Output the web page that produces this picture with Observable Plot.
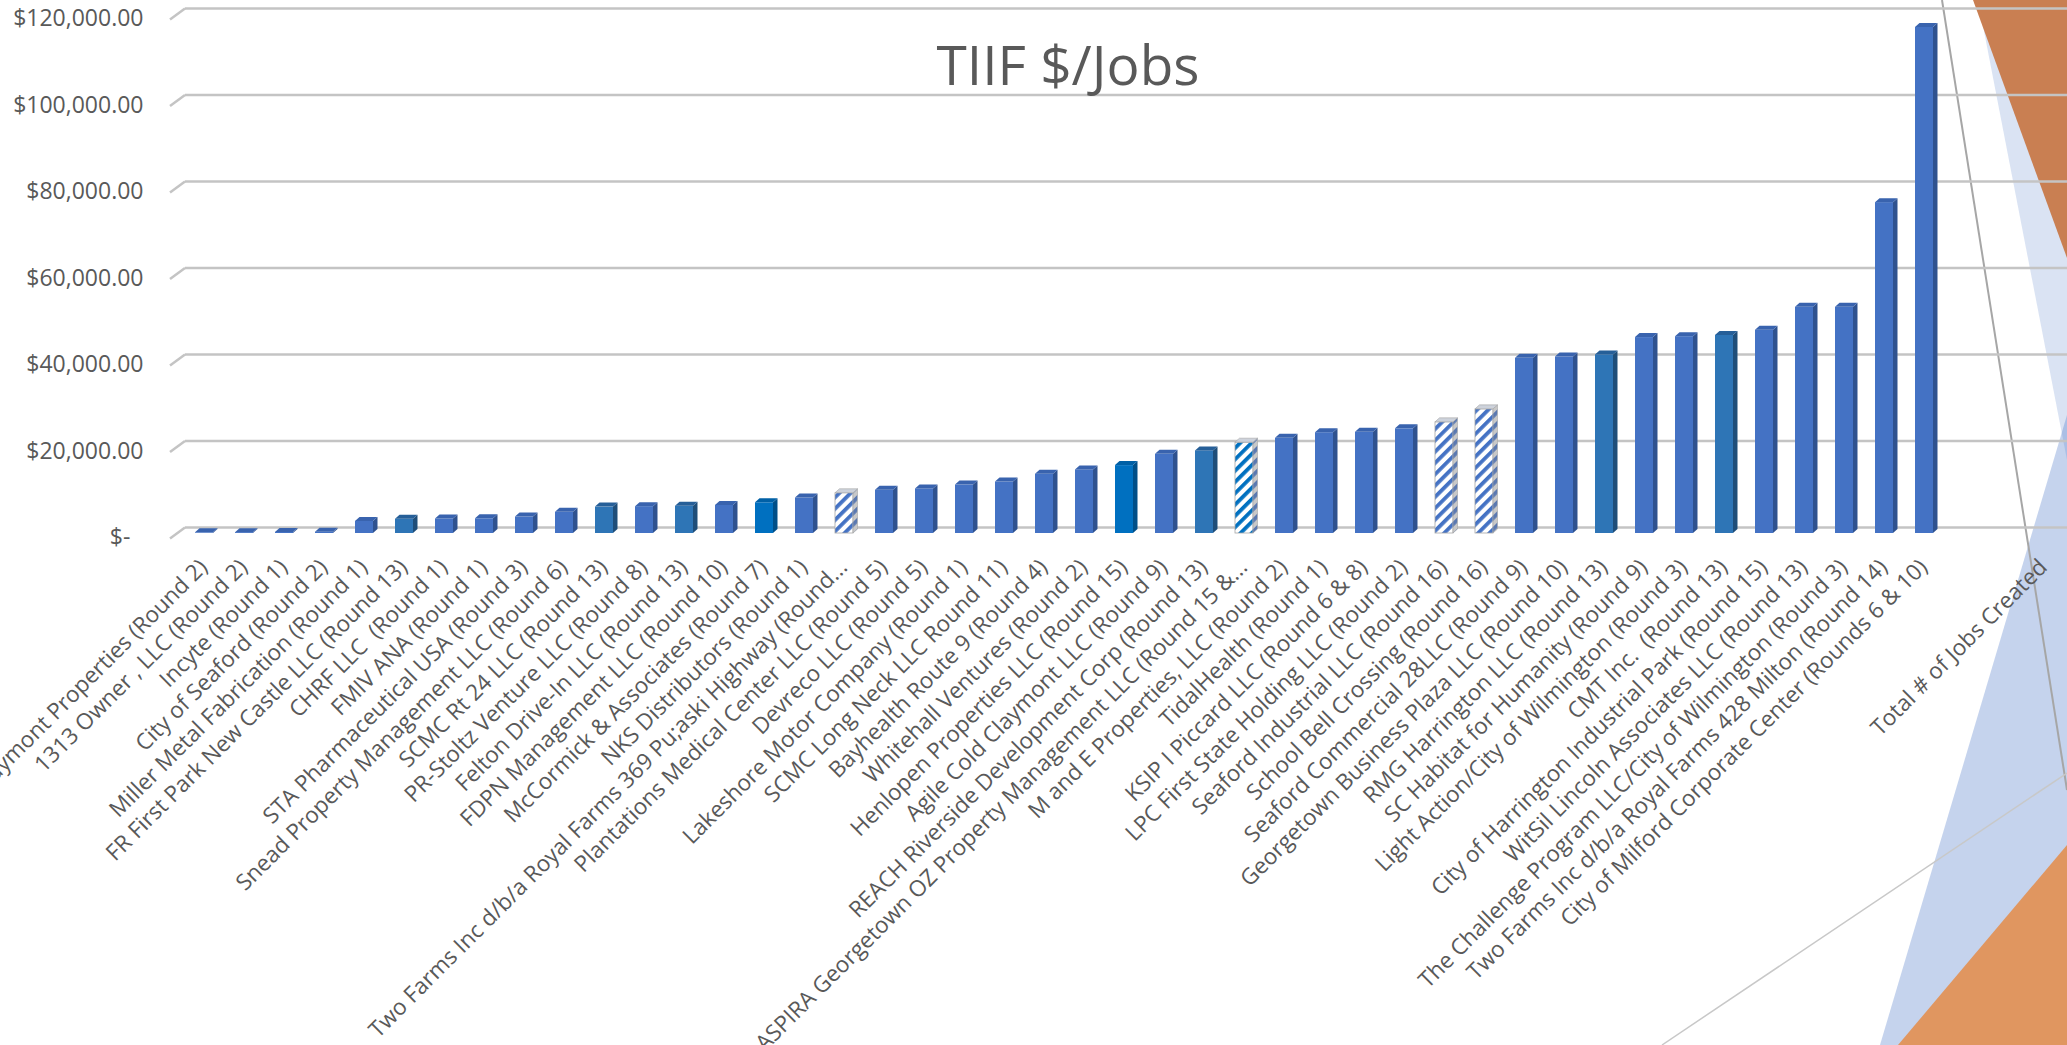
<!DOCTYPE html>
<html>
<head>
<meta charset="utf-8">
<script src="https://cdn.jsdelivr.net/npm/d3@7"></script>
<script src="https://cdn.jsdelivr.net/npm/@observablehq/plot@0.6"></script>
<style>
  html, body { margin: 0; padding: 0; background: #fff; overflow: hidden; }
  #wrap { position: relative; width: 2067px; height: 1045px; }
  #deco, #chart { position: absolute; left: 0; top: 0; }
  #title {
    position: absolute; left: 1068px; top: 36px; transform: translateX(-50%);
    font-family: "Open Sans", sans-serif; font-size: 55px; line-height: 55px;
    color: #595959; white-space: nowrap; margin: 0; font-weight: 400;
  }
</style>
</head>
<body>
<div id="wrap">
  <svg id="deco" width="2067" height="1045">
    <polygon points="1978,0 2067,0 2067,460" fill="#4472C4" fill-opacity="0.2"/>
    <polygon points="1973,0 2067,0 2067,258" fill="#C97F52"/>
    <polygon points="2067,415 1880,1045 2067,1045" fill="#4472C4" fill-opacity="0.31"/>
    <polygon points="2067,845 1898,1045 2067,1045" fill="#E09660"/>
    <line x1="1942" y1="0" x2="2067" y2="790" stroke="#A6A6A6" stroke-width="2"/>
    <line x1="1662" y1="1045" x2="2067" y2="773" stroke="#C8C8C8" stroke-width="1.5"/>
  </svg>
  <div id="chart"></div>
  <div id="title">TIIF $/Jobs</div>
</div>
<script>
// ---------- data ----------
const categories = [
  "Claymont Properties (Round 2)",
  "1313 Owner , LLC (Round 2)",
  "Incyte (Round 1)",
  "City of Seaford (Round 2)",
  "Miller Metal Fabrication (Round 1)",
  "FR First Park New Castle LLC (Round 13)",
  "CHRF LLC  (Round 1)",
  "FMIV ANA (Round 1)",
  "STA Pharmaceutical USA (Round 3)",
  "Snead Property Management LLC (Round 6)",
  "SCMC Rt 24 LLC (Round 13)",
  "PR-Stoltz Venture LLC (Round 8)",
  "Felton Drive-In LLC (Round 13)",
  "FDPN Management LLC (Round 10)",
  "McCormick & Associates (Round 7)",
  "NKS Distributors (Round 1)",
  "Two Farms Inc d/b/a Royal Farms 369 Pu;aski Highway (Round...",
  "Plantations Medical Center LLC (Round 5)",
  "Devreco LLC (Round 5)",
  "Lakeshore Motor Company (Round 1)",
  "SCMC Long Neck LLC Round 11)",
  "Bayhealth Route 9 (Round 4)",
  "Whitehall Ventures (Round 2)",
  "Henlopen Properties LLC (Round 15)",
  "Agile Cold Claymont LLC (Round 9)",
  "REACH Riverside Development Corp (Round 13)",
  "ASPIRA Georgetown OZ Property Management LLC (Round 15 &...",
  "M and E Properties, LLC (Round 2)",
  "TidalHealth (Round 1)",
  "KSIP I Piccard LLC (Round 6 & 8)",
  "LPC First State Holding LLC (Round 2)",
  "Seaford Industrial LLC (Round 16)",
  "School Bell Crossing (Round 16)",
  "Seaford Commercial 28LLC (Round 9)",
  "Georgetown Business Plaza LLC (Round 10)",
  "RMG Harrington LLC (Round 13)",
  "SC Habitat for Humanity (Round 9)",
  "Light Action/City of Wilmington (Round 3)",
  "CMT Inc.  (Round 13)",
  "City of Harrington Industrial Park (Round 15)",
  "WitSil Lincoln Associates LLC (Round 13)",
  "The Challenge Program LLC/City of Wilmington (Round 3)",
  "Two Farms Inc d/b/a Royal Farms 428 Milton (Round 14)",
  "City of Milford Corporate Center (Rounds 6 & 10)",
  "Total # of Jobs Created"
];

const dollarsPerJob = [
  150, 200, 250, 300, 2800, 3300, 3350, 3400, 3800, 4900,
  6100, 6200, 6300, 6500, 7100, 8200, 9300, 10000, 10300, 11200,
  11900, 13700, 14700, 15700, 18300, 19100, 21000, 22000, 23300, 23400,
  24200, 25700, 28700, 40500, 40800, 41300, 45300, 45500, 45800, 47000,
  52300, 52300, 76500, 117000
];

// bar group (series kind) for each project
const barGroup = [
  "A","A","A","A","A","B","A","A","A","A",
  "B","A","B","A","C","A","H","A","A","A",
  "A","A","A","C","A","B","K","A","A","A",
  "A","H","H","A","A","B","A","A","B","A",
  "A","A","A","A"
];

const yTicks = [0, 20000, 40000, 60000, 80000, 100000, 120000];

// ---------- build ----------
const bars = dollarsPerJob.map((v, i) => ({name: categories[i], value: v, group: barGroup[i]}));
const xDomain = [...categories.slice(0, 44), "__gap1", "__gap2", categories[44]];

const groupKeys = ["A", "B", "C", "H", "K"];
const frontFills = ["#4472C4", "#2E75B6", "#0070C0", "url(#hatchA)", "url(#hatchB)"];
const sideFill = {"#4472C4": "#2F528F", "#2E75B6": "#1F4E79", "#0070C0": "#004F88",
                  "url(#hatchA)": "url(#hatchSide)", "url(#hatchB)": "url(#hatchSide)"};
const topFill = {"#4472C4": "#3963AE", "#2E75B6": "#265F98", "#0070C0": "#0060A6",
                 "url(#hatchA)": "#CDD2DB", "url(#hatchB)": "#CDD2DB"};

const fmt = d => d === 0 ? "$-\u2007" : "$" + d3.format(",.2f")(d);

function bars3d(index, scales, values, dims, ctx, next) {
  const g = next(index, scales, values, dims, ctx);
  const sel = d3.select(g);
  const D = 4.5, H = 4;
  sel.selectAll("rect").each(function () {
    const r = d3.select(this);
    const x = +r.attr("x"), y = +r.attr("y"), w = +r.attr("width"), h = +r.attr("height");
    const f = r.attr("fill");
    const hatched = f.startsWith("url");
    if (hatched) r.attr("stroke", "#A6A6A6").attr("stroke-width", 0.8);
    sel.append("polygon")
      .attr("points", `${x+w},${y} ${x+w+D},${y-H} ${x+w+D},${y+h-H} ${x+w},${y+h}`)
      .attr("fill", sideFill[f] || "#2F528F")
      .attr("stroke", hatched ? "#A6A6A6" : "none").attr("stroke-width", 0.6);
    sel.append("polygon")
      .attr("points", `${x},${y} ${x+D},${y-H} ${x+w+D},${y-H} ${x+w},${y}`)
      .attr("fill", topFill[f] || "#3963AE")
      .attr("stroke", hatched ? "#A6A6A6" : "none").attr("stroke-width", 0.6);
  });
  return g;
}

function gridStubs(index, scales, values, dims, ctx, next) {
  const g = next(index, scales, values, dims, ctx);
  const sel = d3.select(g);
  sel.selectAll("line").each(function () {
    const l = d3.select(this);
    const x1 = +l.attr("x1"), y1 = +l.attr("y1");
    sel.append("line").attr("x1", x1 - 15).attr("y1", y1 + 11).attr("x2", x1).attr("y2", y1);
  });
  return g;
}

const chart = Plot.plot({
  width: 2067,
  height: 1045,
  marginLeft: 185,
  marginRight: 0,
  marginTop: 0,
  marginBottom: 0,
  style: {fontFamily: "'Open Sans', sans-serif", background: "transparent", color: "#595959"},
  x: {type: "band", domain: xDomain, range: [178, 2069], paddingInner: 0.56, paddingOuter: 0.28, axis: null},
  y: {domain: [0, 120000], range: [527, 8], axis: null},
  color: {type: "ordinal", domain: groupKeys, range: frontFills},
  marks: [
    Plot.ruleY(yTicks, {stroke: "#C4C4C4", strokeWidth: 2.5, render: gridStubs}),
    Plot.barY(bars, {x: "name", y: "value", fill: "group", dy: 6, render: bars3d}),
    Plot.text(yTicks, {y: d => d, text: fmt, frameAnchor: "left", dx: -42, dy: 10.5,
      textAnchor: "end", lineAnchor: "middle", fontSize: 23, fill: "#595959"}),
    Plot.text(categories, {x: d => d, y: () => 0, text: d => d, dx: -1, dy: 36, rotate: -45,
      textAnchor: "end", lineAnchor: "middle", fontSize: 22.5, fill: "#595959"})
  ]
});

// hatch patterns used by the hatched series
d3.select(chart).insert("defs", ":first-child").html(`
  <pattern id="hatchA" patternUnits="userSpaceOnUse" width="8" height="8" patternTransform="rotate(-45)">
    <rect width="8" height="8" fill="#ffffff"/><rect width="8" height="3.8" fill="#4472C4"/>
  </pattern>
  <pattern id="hatchB" patternUnits="userSpaceOnUse" width="8" height="8" patternTransform="rotate(-45)">
    <rect width="8" height="8" fill="#ffffff"/><rect width="8" height="3.8" fill="#0070C0"/>
  </pattern>
  <pattern id="hatchSide" patternUnits="userSpaceOnUse" width="8" height="8" patternTransform="rotate(-45)">
    <rect width="8" height="8" fill="#C8C8C8"/><rect width="8" height="3.8" fill="#5A78B0"/>
  </pattern>
`);

document.getElementById("chart").appendChild(chart);
</script>
</body>
</html>
